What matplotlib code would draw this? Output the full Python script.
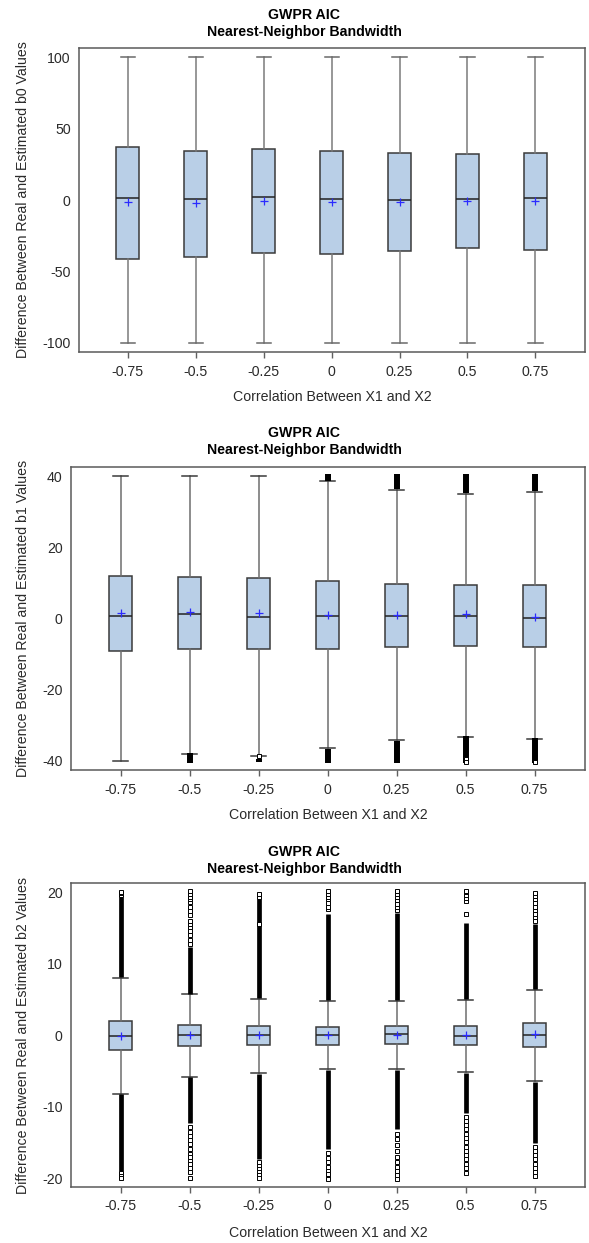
import matplotlib
matplotlib.use("Agg")
import matplotlib.pyplot as plt
import numpy as np

plt.rcParams['font.family'] = ['Liberation Sans', 'DejaVu Sans']

W, H = 589, 1243

groups = ["-0.75", "-0.5", "-0.25", "0", "0.25", "0.5", "0.75"]

# b0 panel
b0_q1 = [-41.2, -39.8, -37.4, -37.9, -36.0, -33.9, -34.8]
b0_med = [1.2, 0.5, 1.9, 0.7, 0.2, 0.7, 1.2]
b0_q3 = [37.3, 34.1, 35.7, 34.1, 32.7, 32.0, 32.7]
b0_mean = [-1.4, -2.1, -0.5, -1.4, -1.2, -0.5, -0.9]
b0_lo = [-100, -100, -100, -100, -100, -100, -100]
b0_hi = [100, 100, 100, 100, 100, 100, 100]

# b1 panel
b1_q1 = [-9.0, -8.5, -8.7, -8.5, -8.1, -7.6, -8.1]
b1_med = [0.8, 1.2, 0.5, 0.6, 0.6, 0.6, 0.1]
b1_q3 = [12.0, 11.7, 11.4, 10.5, 9.7, 9.5, 9.5]
b1_mean = [1.5, 1.7, 1.5, 1.1, 1.1, 1.2, 0.5]
b1_lo = [-40, -38.1, -38.8, -36.4, -34.2, -33.3, -33.9]
b1_hi = [40, 40, 40, 38.6, 36.2, 35.0, 35.6]
b1_band_top = [None, None, None, (38.8, 40.5), (36.4, 40.5), (35.2, 40.5), (35.8, 40.5)]
b1_band_bot = [None, (-37.9, -40.5), (-39.6, -40.4), (-36.6, -40.5), (-34.4, -40.5), (-33.0, -40.5), (-33.6, -40.5)]
b1_sparse = [[], [], [-38.8], [], [], [-39.5, -40.3], [-40.3]]

# b2 panel
b2_q1 = [-2.1, -1.45, -1.35, -1.4, -1.3, -1.4, -1.6]
b2_med = [-0.1, 0.0, 0.0, 0.0, 0.1, -0.1, 0.0]
b2_q3 = [1.96, 1.4, 1.26, 1.17, 1.26, 1.26, 1.72]
b2_mean = [-0.1, 0.0, 0.0, 0.0, 0.05, 0.0, 0.15]
b2_lo = [-8.2, -5.8, -5.3, -4.8, -4.8, -5.2, -6.4]
b2_hi = [8.0, 5.7, 5.1, 4.8, 4.8, 4.9, 6.3]
b2_band_top = [(8.1, 19.4), (5.8, 12.4), (5.2, 19.0), (4.9, 16.9), (4.9, 17.1), (5.0, 15.7), (6.4, 15.5)]
b2_band_bot = [(-8.3, -19.0), (-5.9, -12.3), (-5.4, -17.4), (-4.9, -16.0), (-4.9, -13.2), (-5.3, -10.9), (-6.5, -15.1)]
b2_sparse = [
    [19.6, 19.9, 20.1, -19.3, -19.7, -20.0],
    [12.8, 13.3, 14.0, 14.6, 15.1, 15.5, 16.0, 16.8, 17.4, 18.0, 18.6, 19.0, 19.4, 19.8, 20.2,
     -12.8, -13.5, -14.1, -14.7, -15.3, -16.0, -16.6, -17.1, -17.6, -18.1, -18.6, -19.1, -20.0],
    [15.6, 19.4, 19.8, -17.8, -18.3, -18.8, -19.2, -19.6, -20.0],
    [17.6, 18.0, 18.5, 19.0, 19.4, 19.8, 20.2, -16.5, -17.2, -17.8, -18.4, -19.0, -19.5, -20.0, -20.2],
    [17.5, 18.0, 18.4, 18.9, 19.3, 19.8, 20.2,
     -13.8, -14.6, -15.4, -16.2, -17.0, -17.7, -18.4, -19.0, -19.6, -20.2],
    [16.9, 18.8, 19.2, 19.6, 20.0, 20.2,
     -11.4, -12.0, -12.6, -13.2, -13.8, -14.4, -15.0, -15.6, -16.2, -16.8, -17.4, -18.0, -18.6, -19.3],
    [16.0, 16.5, 17.0, 17.5, 18.0, 18.5, 19.0, 19.5, 19.9,
     -15.6, -16.2, -16.8, -17.4, -18.0, -18.6, -19.2, -19.7],
]

box_color = '#b9cfe7'
edge = '#3a3a3a'
txt = '#2a2a2a'
fs = 10.2


def px_axes(fig, l, t, r, b):
    return fig.add_axes([l / W, 1 - b / H, (r - l) / W, (b - t) / H])


def panel(fig, rect, q1, med, q3, mean, lo, hi, yticks, ylim, ylabel, title_y, xl_y,
          bands_top=None, bands_bot=None, sparse=None, band_lw=3.4, whisk='#6e6e6e', cap='#3a3a3a'):
    ax = px_axes(fig, *rect)
    stats = []
    for i in range(len(groups)):
        stats.append(dict(q1=q1[i], med=med[i], q3=q3[i], mean=mean[i],
                          whislo=lo[i], whishi=hi[i], fliers=[]))
    pos = np.arange(len(groups))
    ax.bxp(stats, positions=pos, widths=0.34, capwidths=0.21, patch_artist=True,
           showmeans=True, showfliers=False,
           boxprops=dict(facecolor=box_color, edgecolor=edge, linewidth=1.1),
           whiskerprops=dict(color=whisk, linewidth=1.1),
           capprops=dict(color=cap, linewidth=1.1),
           medianprops=dict(color='#222222', linewidth=1.1),
           meanprops=dict(marker='+', markeredgecolor='#2b2bff', markersize=6, markeredgewidth=0.9))
    for bands in (bands_top, bands_bot):
        if bands is None:
            continue
        for i, bd in enumerate(bands):
            if bd is None:
                continue
            ax.vlines(pos[i], bd[0], bd[1], colors='black', linewidth=band_lw, zorder=4)
    if sparse is not None:
        for i, vals in enumerate(sparse):
            if vals:
                ax.plot([pos[i]] * len(vals), vals, 's', mfc='white', mec='black',
                        markersize=3.5, markeredgewidth=0.7, zorder=5, linestyle='none')

    ax.set_xlim(-0.72, 6.73)
    ax.set_ylim(*ylim)
    ax.set_xticks(pos)
    ax.set_xticklabels(groups)
    ax.set_yticks(yticks)
    ax.set_yticklabels([str(v) for v in yticks])
    ax.tick_params(axis='x', length=4, width=1, color='#606060', labelsize=fs, labelcolor=txt, pad=5)
    ax.tick_params(axis='y', length=0, labelsize=fs, labelcolor=txt, pad=6)
    for s in ax.spines.values():
        s.set_color('#5a5a5a')
        s.set_linewidth(1.1)

    l, t, r, b = rect
    cx = (l + r) / 2
    fig.text(304 / W, 1 - title_y / H, "GWPR AIC", ha='center', va='center',
             fontsize=fs, fontweight='bold', color='black')
    fig.text(304 / W, 1 - (title_y + 17) / H, "Nearest-Neighbor Bandwidth", ha='center', va='center',
             fontsize=fs, fontweight='bold', color='black')
    fig.text(cx / W, 1 - xl_y / H, "Correlation Between X1 and X2", ha='center', va='center',
             fontsize=fs, color=txt)
    fig.text(23 / W, 1 - ((t + b) / 2) / H, ylabel, ha='center', va='center', rotation=90,
             fontsize=fs, color=txt)
    return ax


fig = plt.figure(figsize=(W / 100, H / 100), dpi=100)
fig.patch.set_facecolor('white')

panel(fig, (79, 48, 585, 352), b0_q1, b0_med, b0_q3, b0_mean, b0_lo, b0_hi,
      [-100, -50, 0, 50, 100], (-106.5, 106.5),
      "Difference Between Real and Estimated b0 Values", 15, 397,
      whisk='#7a7a7a', cap='#6a6a6a')

panel(fig, (71, 467, 585, 770), b1_q1, b1_med, b1_q3, b1_mean, b1_lo, b1_hi,
      [-40, -20, 0, 20, 40], (-42.6, 42.6),
      "Difference Between Real and Estimated b1 Values", 433, 815,
      bands_top=b1_band_top, bands_bot=b1_band_bot, sparse=b1_sparse, band_lw=4.3)

panel(fig, (71, 883, 585, 1187), b2_q1, b2_med, b2_q3, b2_mean, b2_lo, b2_hi,
      [-20, -10, 0, 10, 20], (-21.25, 21.3),
      "Difference Between Real and Estimated b2 Values", 852, 1233,
      bands_top=b2_band_top, bands_bot=b2_band_bot, sparse=b2_sparse, band_lw=3.4)

fig.savefig("out.png", dpi=100)
